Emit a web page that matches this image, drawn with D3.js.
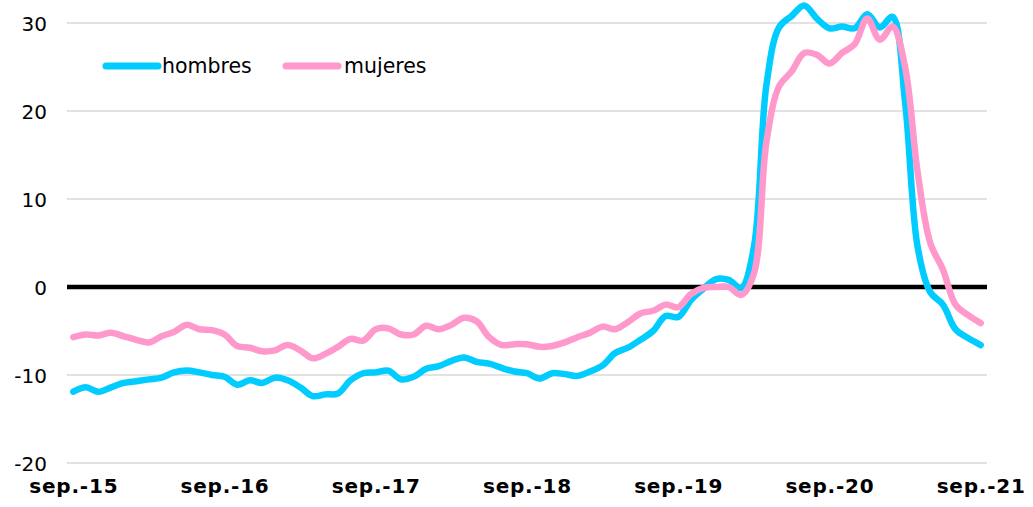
<!DOCTYPE html>
<html>
<head>
<meta charset="utf-8">
<script src="https://cdn.jsdelivr.net/npm/d3@7"></script>
<style>
  html, body { margin: 0; padding: 0; background: #fff; }
  svg { display: block; }
  text { font-family: "DejaVu Sans", Verdana, sans-serif; }
</style>
</head>
<body>
<svg id="chart" width="1033" height="507"></svg>
<script>
// Monthly data, sep-2015 .. sep-2021
const months = d3.range(73);
const tickLabels = ["sep.-15", "sep.-16", "sep.-17", "sep.-18", "sep.-19", "sep.-20", "sep.-21"];
const yTicks = [-20, -10, 0, 10, 20, 30];
const seriesNames = ["hombres", "mujeres"];

const hombres = [
  -11.9, -11.4, -11.9, -11.4, -10.9, -10.7, -10.5, -10.3, -9.7, -9.5, -9.7, -10.0,
  -10.2, -11.1, -10.6, -10.9, -10.3, -10.6, -11.4, -12.4, -12.2, -12.1, -10.6, -9.8,
  -9.7, -9.5, -10.5, -10.2, -9.3, -9.0, -8.4, -8.0, -8.5, -8.7, -9.2, -9.6,
  -9.8, -10.4, -9.8, -9.9, -10.1, -9.6, -8.9, -7.5, -6.9, -6.0, -5.0, -3.3,
  -3.4, -1.5, -0.2, 0.9, 0.8, -0.1, 4.5, 23.0, 29.5, 30.8, 32.0, 30.5,
  29.4, 29.6, 29.4, 31.0, 29.5, 30.7, 21.0, 4.5, -0.6, -2.0, -4.8, -5.8,
  -6.6
];
const mujeres = [
  -5.7, -5.4, -5.5, -5.2, -5.6, -6.0, -6.3, -5.6, -5.1, -4.3, -4.8, -4.9,
  -5.4, -6.7, -6.9, -7.3, -7.2, -6.6, -7.2, -8.1, -7.6, -6.8, -5.9, -6.1,
  -4.8, -4.7, -5.4, -5.4, -4.4, -4.8, -4.3, -3.5, -3.9, -5.7, -6.6, -6.5,
  -6.5, -6.8, -6.7, -6.3, -5.7, -5.2, -4.5, -4.8, -4.0, -3.0, -2.7, -2.0,
  -2.3, -0.8, -0.1, 0.0, 0.0, -0.9, 1.5, 16.5, 22.8, 24.5, 26.6, 26.4,
  25.4, 26.6, 27.6, 30.5, 28.1, 29.6, 25.0, 13.0, 5.0, 2.0, -2.0, -3.2,
  -4.1
];
const colors = { hombres: "#00CCFF", mujeres: "#FF99CC" };

const svg = d3.select("#chart");
const left = 67, right = 987;
const x = d3.scalePoint().domain(months).range([left, right]).padding(0.5);
const y = d3.scaleLinear().domain([-20, 30]).range([463, 23]);

// gridlines
svg.append("g").selectAll("line").data(yTicks.filter(d => d !== 0)).join("line")
  .attr("x1", left).attr("x2", right)
  .attr("y1", d => y(d)).attr("y2", d => y(d))
  .attr("stroke", "#d9d9d9").attr("stroke-width", 1.5);

// y axis labels
const yAxis = d3.axisLeft(y).tickValues(yTicks).tickSize(0).tickPadding(0).tickFormat(d => String(d));
const gy = svg.append("g").attr("transform", `translate(47,0)`).call(yAxis);
gy.select(".domain").remove();
gy.selectAll("text").attr("font-size", 20).attr("fill", "#000")
  .attr("font-family", "DejaVu Sans, Verdana, sans-serif").attr("dy", "0.35em");

// x axis labels
const tickMonths = months.filter(m => m % 12 === 0);
const xAxis = d3.axisBottom(x).tickValues(tickMonths).tickSize(0).tickPadding(0)
  .tickFormat(m => tickLabels[m / 12]);
const gx = svg.append("g").attr("transform", `translate(0,478)`).call(xAxis);
gx.select(".domain").remove();
gx.selectAll("text").attr("font-size", 20).attr("font-weight", "bold").attr("fill", "#000")
  .attr("font-family", "DejaVu Sans, Verdana, sans-serif").attr("letter-spacing", "0.8px").attr("dy", "0.75em");

// zero line
svg.append("line").attr("x1", left).attr("x2", right)
  .attr("y1", y(0)).attr("y2", y(0))
  .attr("stroke", "#000").attr("stroke-width", 4.5);

const line = d3.line().x((d, i) => x(i)).y(d => y(d)).curve(d3.curveCatmullRom.alpha(0.5));
const data = { hombres, mujeres };
seriesNames.forEach(name => {
  svg.append("path").datum(data[name])
    .attr("d", line).attr("fill", "none")
    .attr("stroke", colors[name]).attr("stroke-width", 6.5)
    .attr("stroke-linecap", "round").attr("stroke-linejoin", "round");
});

// legend
const legendPos = [{ x: 106, tx: 162 }, { x: 286, tx: 344 }];
seriesNames.forEach((name, k) => {
  const p = legendPos[k];
  svg.append("line").attr("x1", p.x).attr("x2", p.x + 52).attr("y1", 66).attr("y2", 66)
    .attr("stroke", colors[name]).attr("stroke-width", 7).attr("stroke-linecap", "round");
  svg.append("text").attr("x", p.tx).attr("y", 73).attr("font-size", 20.5).attr("fill", "#000").text(name);
});
</script>
</body>
</html>
